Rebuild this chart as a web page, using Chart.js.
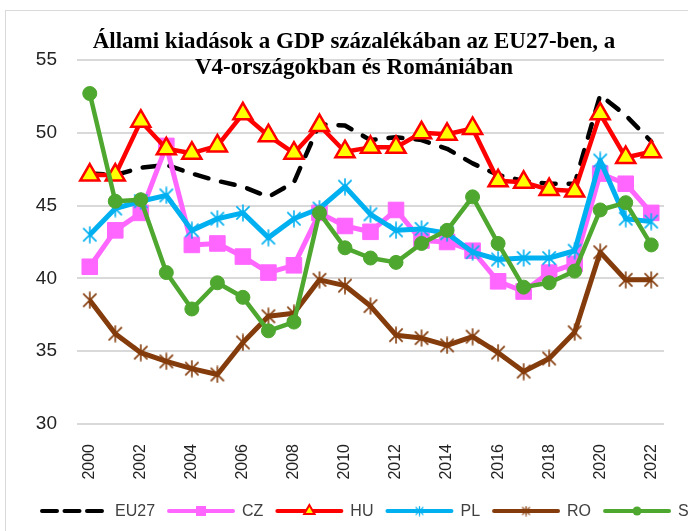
<!DOCTYPE html>
<html><head><meta charset="utf-8">
<script src="https://cdn.jsdelivr.net/npm/chart.js@4/dist/chart.umd.min.js"></script>
<style>
html,body{margin:0;padding:0;background:#fff;overflow:hidden;width:688px;height:531px}
#wrap{position:absolute;left:0;top:0;width:740px;height:531px}
canvas{display:block}
</style></head><body>
<div id="wrap"><canvas id="c" width="740" height="531" style="width:740px;height:531px"></canvas></div>
<script>
const titleLines = ['Állami kiadások a GDP százalékában az EU27-ben, a', 'V4-országokban és Romániában'];
const years = ['2000','2001','2002','2003','2004','2005','2006','2007','2008','2009','2010','2011','2012','2013','2014','2015','2016','2017','2018','2019','2020','2021','2022'];
const seriesNames = ['EU27','CZ','HU','PL','RO','SK'];
const eu27 = [47.2, 47.1, 47.6, 47.8, 47.2, 46.7, 46.3, 45.6, 46.6, 50.6, 50.5, 49.5, 49.7, 49.5, 48.9, 47.9, 47.1, 46.7, 46.5, 46.5, 52.6, 51.2, 49.4];
const cz   = [40.8, 43.3, 44.5, 49.1, 42.3, 42.4, 41.5, 40.4, 40.9, 44.5, 43.6, 43.2, 44.7, 42.6, 42.5, 41.9, 39.8, 39.1, 40.4, 41.0, 47.2, 46.5, 44.5];
const hu   = [47.1, 47.1, 50.8, 48.9, 48.6, 49.1, 51.3, 49.8, 48.6, 50.5, 48.7, 49.0, 49.0, 50.0, 49.9, 50.3, 46.7, 46.6, 46.1, 46.0, 51.3, 48.3, 48.7];
const pl   = [43.0, 44.8, 45.3, 45.7, 43.3, 44.1, 44.5, 42.8, 44.1, 44.8, 46.3, 44.4, 43.3, 43.4, 43.1, 41.8, 41.3, 41.4, 41.4, 41.9, 48.1, 44.1, 43.9];
const ro   = [38.5, 36.2, 34.9, 34.3, 33.8, 33.4, 35.6, 37.4, 37.6, 39.9, 39.5, 38.1, 36.1, 35.9, 35.4, 36.0, 34.9, 33.6, 34.5, 36.3, 41.8, 39.9, 39.9];
const sk   = [52.7, 45.3, 45.4, 40.4, 37.9, 39.7, 38.7, 36.4, 37.0, 44.5, 42.1, 41.4, 41.1, 42.4, 43.3, 45.6, 42.4, 39.4, 39.7, 40.5, 44.7, 45.2, 42.3];
const yTicks = [30, 35, 40, 45, 50, 55];

const C = {eu:'#000000', cz:'#FF66FF', hu:'#FF0000', huFill:'#FFFF00', pl:'#00B0F0', ro:'#843C0C', sk:'#4EA72E'};

function asterisk(color, size, lw){
  const c = document.createElement('canvas');
  c.width = size; c.height = size;
  const g = c.getContext('2d');
  g.strokeStyle = color; g.lineWidth = lw; g.lineCap = 'butt';
  const m = size/2, r = size/2 - 0.5, d = r*0.78;
  g.beginPath();
  g.moveTo(m, m-r); g.lineTo(m, m+r);
  g.moveTo(m-d, m-d); g.lineTo(m+d, m+d);
  g.moveTo(m+d, m-d); g.lineTo(m-d, m+d);
  g.stroke();
  return c;
}
const plStar = asterisk(C.pl, 18, 1.6), roStar = asterisk(C.ro, 18, 1.6);
const plStarS = asterisk(C.pl, 11, 1.3), roStarS = asterisk(C.ro, 11, 1.3);

const datasets = [
  {label: seriesNames[0], data: eu27, borderColor: C.eu, backgroundColor: C.eu, borderWidth: 4.5, borderDash: [14, 13], borderCapStyle: 'round', pointRadius: 0, order: 6},
  {label: seriesNames[1], data: cz, borderColor: C.cz, backgroundColor: C.cz, borderWidth: 5, pointStyle: 'rect', pointRadius: 11, pointBorderWidth: 1, pointBorderColor: C.cz, pointBackgroundColor: C.cz, order: 5},
  {label: seriesNames[2], data: hu, borderColor: C.hu, backgroundColor: C.huFill, borderWidth: 4.5, pointStyle: 'triangle', pointRadius: 11, pointBorderWidth: 2.5, pointBorderColor: C.hu, pointBackgroundColor: C.huFill, order: 4},
  {label: seriesNames[3], data: pl, borderColor: C.pl, backgroundColor: C.pl, borderWidth: 5, pointStyle: plStar, order: 3},
  {label: seriesNames[4], data: ro, borderColor: C.ro, backgroundColor: C.ro, borderWidth: 5, pointStyle: roStar, order: 2},
  {label: seriesNames[5], data: sk, borderColor: C.sk, backgroundColor: C.sk, borderWidth: 4.5, pointStyle: 'circle', pointRadius: 7, pointBorderWidth: 1, pointBorderColor: C.sk, pointBackgroundColor: C.sk, order: 1}
];
datasets.forEach(d => { d.borderJoinStyle = 'round'; d.tension = 0; d.fill = false; d.pointHoverRadius = d.pointRadius; });

function legendMarker(ctx, i, x, y){
  ctx.save();
  if (i === 1){ ctx.fillStyle = C.cz; ctx.fillRect(x-5, y-5, 10, 10); }
  else if (i === 2){
    ctx.fillStyle = C.huFill; ctx.strokeStyle = C.hu; ctx.lineWidth = 2;
    const r = 6; ctx.beginPath();
    ctx.moveTo(x, y - r);
    ctx.lineTo(x + r*Math.sin(2*Math.PI/3), y - r*Math.cos(2*Math.PI/3));
    ctx.lineTo(x + r*Math.sin(4*Math.PI/3), y - r*Math.cos(4*Math.PI/3));
    ctx.closePath(); ctx.fill(); ctx.stroke();
  }
  else if (i === 3){ ctx.drawImage(plStarS, x-5.5, y-5.5); }
  else if (i === 4){ ctx.drawImage(roStarS, x-5.5, y-5.5); }
  else if (i === 5){ ctx.fillStyle = C.sk; ctx.beginPath(); ctx.arc(x, y, 4.5, 0, Math.PI*2); ctx.fill(); }
  ctx.restore();
}

const deco = {
  id: 'deco',
  beforeDraw(chart){
    const ctx = chart.ctx; ctx.save();
    ctx.fillStyle = '#fff'; ctx.fillRect(0, 0, chart.width, chart.height);
    ctx.strokeStyle = '#D9D9D9'; ctx.lineWidth = 1;
    ctx.strokeRect(5.5, 10.5, chart.width, chart.height);
    ctx.restore();
  },
  afterDraw(chart){
    const ctx = chart.ctx; ctx.save();
    ctx.fillStyle = '#000';
    ctx.font = 'bold 23px "Liberation Serif", "Times New Roman", serif';
    ctx.textAlign = 'center'; ctx.textBaseline = 'alphabetic';
    ctx.fillText(titleLines[0], 354, 48);
    ctx.fillText(titleLines[1], 354, 74);
    // legend
    ctx.font = '16px "Liberation Sans", Arial, sans-serif';
    ctx.textAlign = 'left'; ctx.textBaseline = 'middle';
    let x = 40; const y = 511;
    chart.data.datasets.forEach((ds, i) => {
      ctx.save();
      ctx.strokeStyle = ds.borderColor; ctx.lineWidth = 4; ctx.lineCap = 'round';
      if (i === 0) ctx.setLineDash([15, 7.5]);
      ctx.beginPath(); ctx.moveTo(x + 2, y); ctx.lineTo(x + 66, y); ctx.stroke();
      ctx.restore();
      legendMarker(ctx, i, x + 34, y);
      ctx.fillStyle = '#404040';
      ctx.fillText(ds.label, x + 75, y + 1);
      x += 75 + ctx.measureText(ds.label).width + 12;
    });
    ctx.restore();
  }
};

new Chart(document.getElementById('c'), {
  type: 'line',
  data: {labels: years, datasets: datasets},
  plugins: [deco],
  options: {
    responsive: false, animation: false, events: [],
    layout: {padding: {left: 0, top: 60, right: 76, bottom: 47}},
    plugins: {legend: {display: false}, title: {display: false}, tooltip: {enabled: false}},
    scales: {
      x: {
        offset: true,
        grid: {display: false, drawTicks: false},
        border: {display: false},
        afterFit(s){ s.height = 60; },
        ticks: {autoSkip: false, minRotation: 90, maxRotation: 90, padding: 20, color: '#222',
          font: {family: '"Liberation Sans", Arial, sans-serif', size: 16},
          callback: (v, i) => (i % 2 === 0 ? years[i] : '')}
      },
      y: {
        min: yTicks[0], max: yTicks[yTicks.length - 1],
        afterFit(s){ s.width = 77; },
        afterBuildTicks(s){ s.ticks = yTicks.map(v => ({value: v})); },
        grid: {color: '#D9D9D9', lineWidth: 2, drawTicks: false},
        border: {display: false},
        ticks: {padding: 20, color: '#222', font: {family: '"Liberation Sans", Arial, sans-serif', size: 19}}
      }
    }
  }
});
</script>
</body></html>
